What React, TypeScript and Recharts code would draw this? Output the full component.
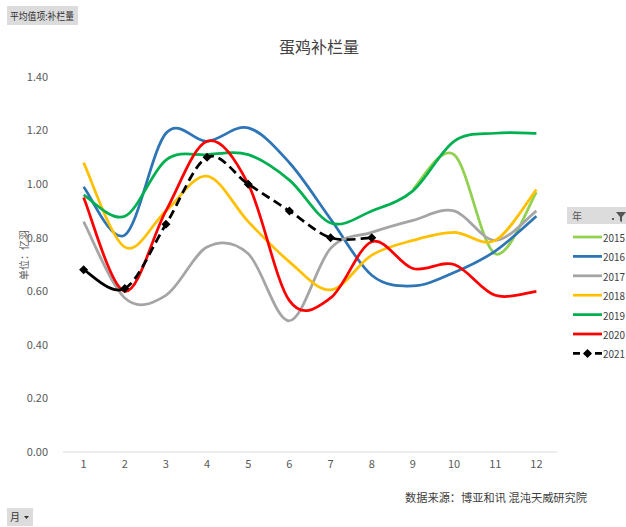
import React from 'react';
import { LineChart, Line, XAxis, YAxis } from 'recharts';

const months = ['1', '2', '3', '4', '5', '6', '7', '8', '9', '10', '11', '12'];
const yTicks = [0, 0.2, 0.4, 0.6, 0.8, 1.0, 1.2, 1.4];
const years = ['2015', '2016', '2017', '2018', '2019', '2020', '2021'];

const v2015 = [null, null, null, null, null, null, null, null, 0.98, 1.11, 0.74, 0.97];
const v2016 = [0.99, 0.81, 1.19, 1.16, 1.21, 1.08, 0.87, 0.66, 0.62, 0.67, 0.75, 0.88];
const v2017 = [0.86, 0.575, 0.585, 0.765, 0.74, 0.49, 0.76, 0.82, 0.865, 0.9, 0.79, 0.9];
const v2018 = [1.08, 0.765, 0.9, 1.03, 0.86, 0.71, 0.605, 0.735, 0.79, 0.82, 0.79, 0.98];
const v2019 = [0.96, 0.88, 1.09, 1.11, 1.11, 1.015, 0.855, 0.9, 0.975, 1.16, 1.19, 1.19];
const v2020 = [0.95, 0.6, 0.9, 1.16, 1.0, 0.565, 0.575, 0.785, 0.685, 0.7, 0.585, 0.6];
const v2021 = [0.68, 0.61, 0.85, 1.1, 1.0, 0.9, 0.8, 0.8, null, null, null, null];

const colors: Record<string, string> = {
  '2015': '#92D050',
  '2016': '#2E75B6',
  '2017': '#A5A5A5',
  '2018': '#FFC000',
  '2019': '#00B050',
  '2020': '#FF0000',
  '2021': '#000000',
};

const data = months.map((m, i) => ({
  month: m,
  y2015: v2015[i],
  y2016: v2016[i],
  y2017: v2017[i],
  y2018: v2018[i],
  y2019: v2019[i],
  y2020: v2020[i],
  y2021: v2021[i],
}));

// Excel-like smoothed (Catmull-Rom) curve; draws only segments in [fromSeg, toSeg)
function makeCurve(fromSeg: number, toSeg: number) {
  return function (context: any) {
    let pts: number[][] = [];
    return {
      areaStart() {},
      areaEnd() {},
      lineStart() {
        pts = [];
      },
      point(x: number, y: number) {
        pts.push([+x, +y]);
      },
      lineEnd() {
        const n = pts.length;
        if (!n) return;
        if (n === 1) {
          if (fromSeg === 0) context.moveTo(pts[0][0], pts[0][1]);
          return;
        }
        let moved = false;
        for (let i = 0; i < n - 1; i++) {
          if (i < fromSeg || i >= toSeg) continue;
          const p0 = pts[i - 1] || pts[i];
          const p1 = pts[i];
          const p2 = pts[i + 1];
          const p3 = pts[i + 2] || pts[i + 1];
          if (!moved) {
            context.moveTo(p1[0], p1[1]);
            moved = true;
          }
          context.bezierCurveTo(
            p1[0] + (p2[0] - p0[0]) / 6,
            p1[1] + (p2[1] - p0[1]) / 6,
            p2[0] - (p3[0] - p1[0]) / 6,
            p2[1] - (p3[1] - p1[1]) / 6,
            p2[0],
            p2[1]
          );
        }
      },
    };
  };
}

const smoothAll = makeCurve(0, 1000);
const smoothFirst = makeCurve(0, 1);
const smoothRest = makeCurve(1, 1000);

const Diamond = (props: any) => {
  const { cx, cy, index } = props;
  if (cx == null || cy == null || isNaN(cx) || isNaN(cy)) return <g key={`d${index}`} />;
  const r = 4.5;
  return (
    <path
      key={`d${index}`}
      d={`M${cx},${cy - r}L${cx + r},${cy}L${cx},${cy + r}L${cx - r},${cy}Z`}
      fill="#000"
    />
  );
};

const FONT = '"Noto Sans CJK SC", "Noto Sans", sans-serif';
const SW = 2.75;

export default function App() {
  return (
    <div
      style={{
        position: 'absolute',
        left: 0,
        top: 0,
        width: 626,
        height: 527,
        background: '#fff',
        overflow: 'hidden',
        fontFamily: FONT,
      }}
    >
      <div style={{ position: 'absolute', left: 0, top: 0 }}>
        <LineChart
          width={626}
          height={527}
          data={data}
          margin={{ top: 77, right: 69, bottom: 45, left: 23 }}
        >
          <XAxis
            dataKey="month"
            scale="point"
            padding={{ left: 20.6, right: 20.6 }}
            axisLine={{ stroke: '#D9D9D9', strokeWidth: 1 }}
            tickLine={false}
            height={30}
            interval={0}
            tick={{ fill: '#595959', fontSize: 11, fontFamily: FONT }}
          />
          <YAxis
            domain={[0, 1.4]}
            ticks={yTicks}
            width={40}
            axisLine={false}
            tickLine={false}
            tickMargin={9}
            interval={0}
            tickFormatter={(v: number) => v.toFixed(2)}
            tick={{ fill: '#595959', fontSize: 11, fontFamily: FONT }}
          />
          {years.slice(0, 6).map((y) => (
            <Line
              key={y}
              dataKey={`y${y}`}
              type={smoothAll as any}
              stroke={colors[y]}
              strokeWidth={SW}
              dot={false}
              activeDot={false}
              isAnimationActive={false}
            />
          ))}
          <Line
            key="2021solid"
            dataKey="y2021"
            type={smoothFirst as any}
            stroke="#000"
            strokeWidth={SW}
            dot={false}
            activeDot={false}
            legendType="none"
            isAnimationActive={false}
          />
          <Line
            key="2021dash"
            dataKey="y2021"
            type={smoothRest as any}
            stroke="#000"
            strokeWidth={SW}
            strokeDasharray="9 5"
            dot={Diamond}
            activeDot={false}
            isAnimationActive={false}
          />
        </LineChart>
      </div>

      <svg
        width={626}
        height={527}
        style={{ position: 'absolute', left: 0, top: 0, pointerEvents: 'none' }}
      >
        {/* top-left field button */}
        <rect x={7} y={6} width={71} height={19} fill="#DCDCDC" />
        <text
          x={10}
          y={19.5}
          fontSize={10}
          fill="#333"
          fontFamily={FONT}
          textLength={64}
          lengthAdjust="spacingAndGlyphs"
        >
          平均值项:补栏量
        </text>

        {/* title */}
        <text x={319} y={53} fontSize={16} textAnchor="middle" fill="#404040" fontFamily={FONT}>
          蛋鸡补栏量
        </text>

        {/* y axis label */}
        <text
          transform="translate(23,255) rotate(-90)"
          fontSize={10}
          textAnchor="middle"
          dominantBaseline="central"
          fill="#595959"
          fontFamily={FONT}
        >
          单位：亿羽
        </text>

        {/* footer */}
        <text
          x={405}
          y={502}
          fontSize={11.5}
          fill="#404040"
          fontFamily={FONT}
          textLength={182}
          lengthAdjust="spacingAndGlyphs"
        >
          数据来源：博亚和讯 混沌天威研究院
        </text>

        {/* bottom-left field button */}
        <rect x={7} y={508} width={26} height={18} fill="#DCDCDC" />
        <text x={10} y={521} fontSize={10} fill="#333" fontFamily={FONT}>
          月
        </text>
        <path d="M24,516 L29,516 L26.5,519 Z" fill="#333" />

        {/* legend header */}
        <rect x={567} y={207} width={59} height={17} fill="#DCDCDC" />
        <text x={572} y={219.5} fontSize={10} fill="#555" fontFamily={FONT}>
          年
        </text>
        <circle cx={613} cy={219} r={1} fill="#333" />
        <path d="M616,212 L626,212 L622,217 L622,222 L620,221 L620,217 Z" fill="#555" />

        {/* legend items */}
        {years.map((y, i) => {
          const cy = 237 + i * 19.4;
          const isDash = y === '2021';
          return (
            <g key={y}>
              <line
                x1={573}
                x2={602}
                y1={cy}
                y2={cy}
                stroke={colors[y]}
                strokeWidth={SW}
                strokeDasharray={isDash ? '7 4' : undefined}
              />
              {isDash && (
                <path
                  d={`M587.5,${cy - 4.5}L592,${cy}L587.5,${cy + 4.5}L583,${cy}Z`}
                  fill="#000"
                />
              )}
              <text
                x={603}
                y={cy}
                fontSize={11}
                dominantBaseline="central"
                fill="#404040"
                fontFamily={FONT}
                textLength={22}
                lengthAdjust="spacingAndGlyphs"
              >
                {y}
              </text>
            </g>
          );
        })}
      </svg>
    </div>
  );
}
